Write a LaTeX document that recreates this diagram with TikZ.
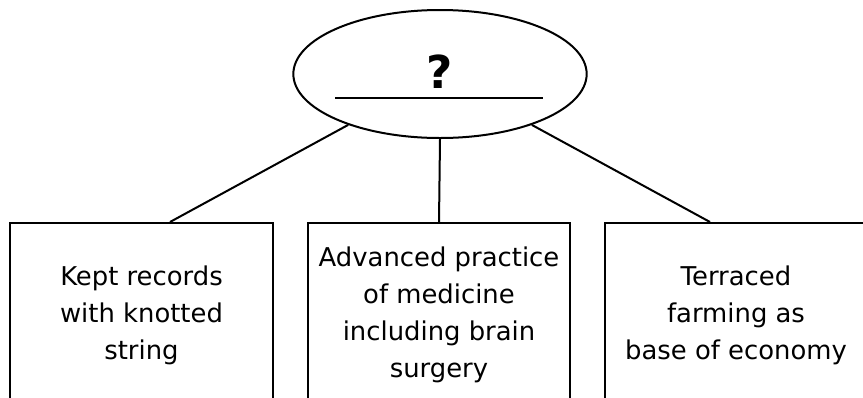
\documentclass[tikz,border=0pt]{standalone}
\usepackage{fontspec}
\setmainfont{DejaVu Sans}
\usetikzlibrary{shapes.geometric,calc}
\tikzset{
  box/.style={draw,line width=1.5pt,anchor=north,minimum width=197pt,minimum height=138pt,
    align=center,inner sep=0pt,font=\fontsize{19.4}{27.75}\selectfont},
  oval/.style={draw,ellipse,line width=1.5pt,minimum width=220pt,minimum height=96pt,inner sep=0pt},
  link/.style={line width=1.5pt}
}
\begin{document}
\begin{tikzpicture}[x=0.75pt,y=-0.75pt]
\useasboundingbox (0,0) rectangle (863,397);
\clip (0,0) rectangle (863,397);
\coordinate (O) at (440,74);
\coordinate (P1) at (141.5,222);
\coordinate (P2) at (439,222);
\coordinate (P3) at (736,222);
\node[oval] (oval) at (O) {};
\node[font=\fontsize{34}{35}\selectfont\bfseries] (q) at (440,72) {?};
\draw [link] ($(oval.center)+(-105,24)$) -- ++(208,0);
\node[box] (b1) at (P1) {Kept records\\with knotted\\string};
\node[box] (b2) at (P2) {Advanced practice\\of medicine\\including brain\\surgery};
\node[box] (b3) at (P3) {Terraced\\farming as\\base of economy};
\draw [link] (oval.209) -- ($(b1.north)+(28.5,0)$);
\draw [link] (oval.south) -- (b2.north);
\draw [link] (oval.331) -- ($(b3.north)+(-26,0)$);
\end{tikzpicture}
\end{document}
